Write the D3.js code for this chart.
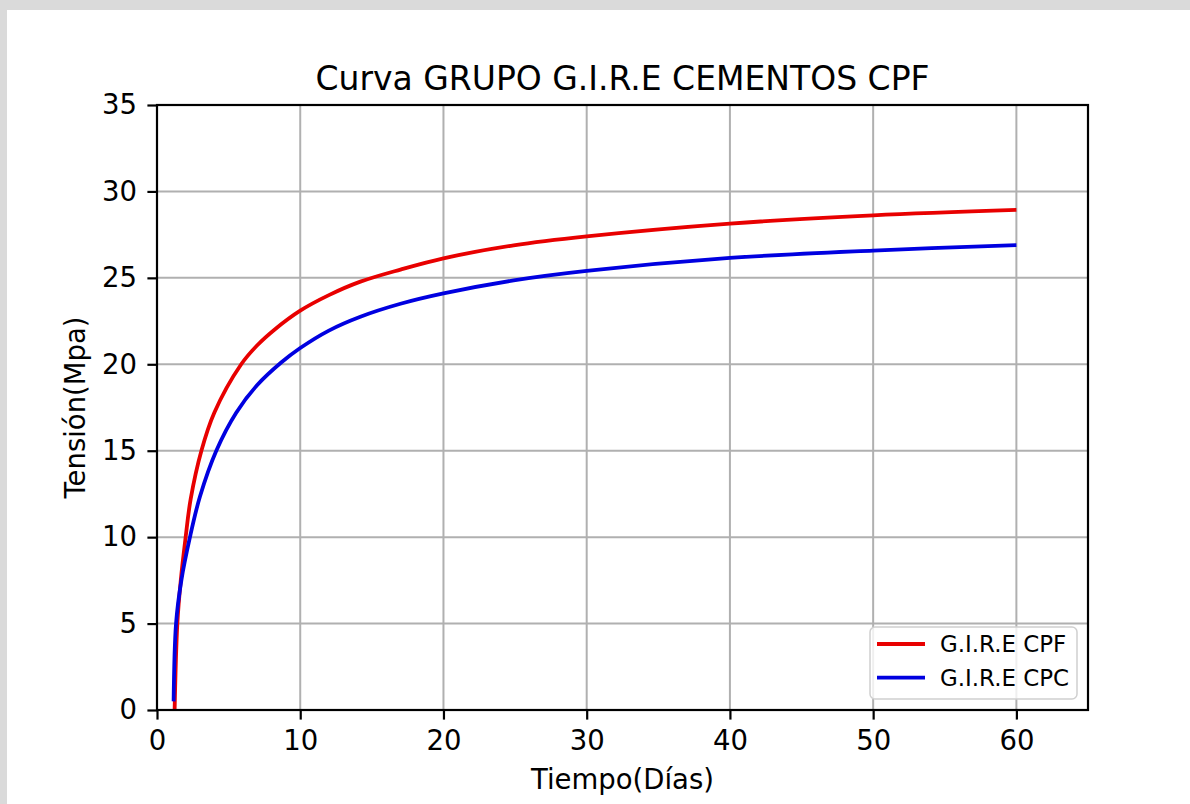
<!DOCTYPE html>
<html>
<head>
<meta charset="utf-8">
<script src="https://cdn.jsdelivr.net/npm/d3@7"></script>
<style>
  html, body { margin: 0; padding: 0; background: #dadada; }
  svg { display: block; }
  text { font-family: "DejaVu Sans", sans-serif; fill: #000; }
</style>
</head>
<body>
<div id="chart"></div>
<script>
// Curva de resistencia
const cpfDays = [1.23, 1.42, 1.66, 2.0, 2.35, 3.1, 4.0, 5.88, 7, 8.2, 10, 12, 14.2, 17, 20, 24.9, 30, 40, 50, 60];
const cpfMpa  = [0, 5, 7.5, 10, 12.2, 15, 17.2, 20, 21.1, 22.0, 23.1, 24.0, 24.78, 25.48, 26.13, 26.88, 27.4, 28.14, 28.62, 28.93];

const cpcDays = [1.16, 1.33, 1.70, 2.3, 3.0, 4.14, 5.53, 7, 8.67, 10, 12, 14.2, 17, 20, 24.9, 30, 40, 50, 60];
const cpcMpa  = [0.5, 5, 7.5, 10, 12.35, 15, 17.2, 18.8, 20.1, 20.94, 21.95, 22.75, 23.5, 24.1, 24.85, 25.4, 26.15, 26.58, 26.89];

const xTicks = [0, 10, 20, 30, 40, 50, 60];
const yTicks = [0, 5, 10, 15, 20, 25, 30, 35];

const seriesNames = ['G.I.R.E CPF', 'G.I.R.E CPC'];
const seriesColors = ['#e80000', '#0000e0'];

const width = 1190, height = 804;
const margin = { top: 105, right: 102, bottom: 94, left: 157 };

const svg = d3.select('#chart').append('svg')
  .attr('width', width)
  .attr('height', height);

// white figure area over the grey frame
svg.append('rect')
  .attr('x', 7).attr('y', 10)
  .attr('width', width - 7).attr('height', height - 10)
  .attr('fill', '#fff');

const x = d3.scaleLinear().domain([0, 65]).range([margin.left, width - margin.right]);
const y = d3.scaleLinear().domain([0, 35]).range([height - margin.bottom, margin.top]);

// grid
const grid = svg.append('g').attr('stroke', '#b0b0b0').attr('stroke-width', 2);
grid.selectAll('.gx').data(xTicks).join('line')
  .attr('x1', d => x(d)).attr('x2', d => x(d))
  .attr('y1', y(0)).attr('y2', y(35));
grid.selectAll('.gy').data(yTicks).join('line')
  .attr('x1', x(0)).attr('x2', x(65))
  .attr('y1', d => y(d)).attr('y2', d => y(d));

// lines
const line = d3.line()
  .x(d => x(d[0]))
  .y(d => y(d[1]))
  .curve(d3.curveCatmullRom.alpha(0.5));

const series = [
  d3.zip(cpfDays, cpfMpa),
  d3.zip(cpcDays, cpcMpa)
];

svg.append('g').selectAll('path')
  .data(series)
  .join('path')
  .attr('d', line)
  .attr('fill', 'none')
  .attr('stroke', (d, i) => seriesColors[i])
  .attr('stroke-width', 3.8)
  .attr('stroke-linejoin', 'round');

// axes
const xAxis = d3.axisBottom(x).tickValues(xTicks).tickSize(9.6);
const yAxis = d3.axisLeft(y).tickValues(yTicks).tickSize(9.6).tickPadding(10.4);

const gx = svg.append('g')
  .attr('transform', `translate(0,${y(0)})`)
  .call(xAxis);
const gy = svg.append('g')
  .attr('transform', `translate(${x(0)},0)`)
  .call(yAxis);

[gx, gy].forEach(g => {
  g.select('.domain').remove();
  g.selectAll('.tick line').attr('stroke', '#000').attr('stroke-width', 2.2);
  g.selectAll('.tick text')
    .attr('font-family', '"DejaVu Sans", sans-serif')
    .attr('font-size', 27.5)
    .attr('fill', '#000');
});
gx.selectAll('.tick text').attr('y', 40).attr('dy', 0);

// frame (spines)
svg.append('rect')
  .attr('x', x(0)).attr('y', y(35))
  .attr('width', x(65) - x(0)).attr('height', y(0) - y(35))
  .attr('fill', 'none')
  .attr('stroke', '#000')
  .attr('stroke-width', 2.2);

// title and labels
svg.append('text')
  .attr('x', (x(0) + x(65)) / 2)
  .attr('y', 90)
  .attr('text-anchor', 'middle')
  .attr('font-size', 33)
  .text('Curva GRUPO G.I.R.E CEMENTOS CPF');

svg.append('text')
  .attr('x', (x(0) + x(65)) / 2)
  .attr('y', 789)
  .attr('text-anchor', 'middle')
  .attr('font-size', 27.5)
  .text('Tiempo(Días)');

svg.append('text')
  .attr('transform', `translate(85,${(y(0) + y(35)) / 2}) rotate(-90)`)
  .attr('text-anchor', 'middle')
  .attr('font-size', 27.5)
  .text('Tensión(Mpa)');

// legend
const legend = svg.append('g').attr('transform', 'translate(870,627)');
legend.append('rect')
  .attr('width', 207).attr('height', 72)
  .attr('rx', 5)
  .attr('fill', '#fff')
  .attr('fill-opacity', 0.8)
  .attr('stroke', '#d0d0d0')
  .attr('stroke-width', 1.5);

const item = legend.selectAll('.item')
  .data(seriesNames)
  .join('g')
  .attr('transform', (d, i) => `translate(0,${17 + i * 33.7})`);
item.append('line')
  .attr('x1', 7).attr('x2', 55)
  .attr('stroke', (d, i) => seriesColors[i])
  .attr('stroke-width', 3.8);
item.append('text')
  .attr('x', 70)
  .attr('dy', '0.36em')
  .attr('font-size', 22.9)
  .text(d => d);
</script>
</body>
</html>
